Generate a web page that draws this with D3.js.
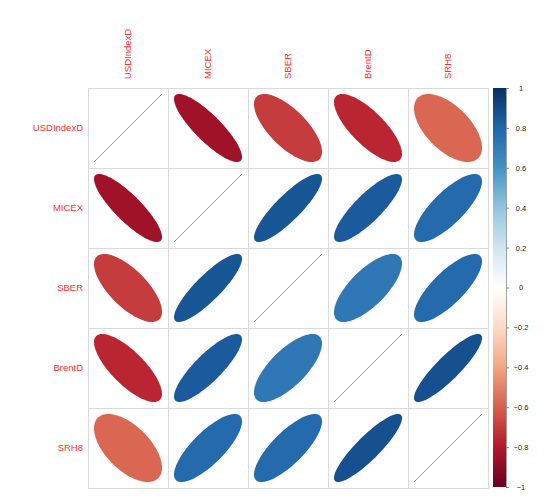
<!DOCTYPE html>
<html>
<head>
<meta charset="utf-8">
<script src="https://cdn.jsdelivr.net/npm/d3@7/dist/d3.min.js"></script>
<style>
  html, body { margin: 0; padding: 0; background: #fff; }
  svg { display: block; font-family: "Liberation Sans", Arial, sans-serif; }
</style>
</head>
<body>
<svg id="chart" width="550" height="501"></svg>
<script>
const variables = ["USDIndexD", "MICEX", "SBER", "BrentD", "SRH8"];
const corrUSDIndexD = [1.00, -0.85, -0.70, -0.76, -0.58];
const corrMICEX     = [-0.85, 1.00, 0.86, 0.84, 0.78];
const corrSBER      = [-0.70, 0.86, 1.00, 0.72, 0.78];
const corrBrentD    = [-0.76, 0.84, 0.72, 1.00, 0.88];
const corrSRH8      = [-0.58, 0.78, 0.78, 0.88, 1.00];
const corrRows = [corrUSDIndexD, corrMICEX, corrSBER, corrBrentD, corrSRH8];
const legendTicks = [-1, -0.8, -0.6, -0.4, -0.2, 0, 0.2, 0.4, 0.6, 0.8, 1];
const paletteColors = ["#67001F", "#B2182B", "#D6604D", "#F4A582", "#FDDBC7", "#FFFFFF",
                       "#D1E5F0", "#92C5DE", "#4393C3", "#2166AC", "#053061"];

const svg = d3.select("#chart");
const plotLeft = 88, plotTop = 88, plotSize = 400;

const x = d3.scaleBand().domain(variables).range([plotLeft, plotLeft + plotSize]).padding(0);
const y = d3.scaleBand().domain(variables).range([plotTop, plotTop + plotSize]).padding(0);
const color = d3.scaleLinear().domain(legendTicks).range(paletteColors).interpolate(d3.interpolateRgb);

const cells = [];
variables.forEach((rv, i) => {
  variables.forEach((cv, j) => {
    cells.push({ row: rv, col: cv, r: corrRows[i][j] });
  });
});

// grid
const g = svg.append("g");
g.selectAll("rect.cell").data(cells).join("rect")
  .attr("class", "cell")
  .attr("x", d => x(d.col) + 0.5)
  .attr("y", d => y(d.row) + 0.5)
  .attr("width", x.bandwidth())
  .attr("height", y.bandwidth())
  .attr("fill", "none")
  .attr("stroke", "#dadada")
  .attr("stroke-width", 1);

// ellipses (corrplot style)
function ellipsePath(d) {
  const cx = x(d.col) + x.bandwidth() / 2;
  const cyy = y(d.row) + y.bandwidth() / 2;
  const s = 0.85 * 0.5 * x.bandwidth();
  const a = Math.acos(Math.max(-1, Math.min(1, d.r))) / 2;
  const n = 99;
  const pts = d3.range(n).map(k => {
    const t = 2 * Math.PI * k / (n - 1);
    return [cx + s * Math.cos(t + a), cyy - s * Math.cos(t - a)];
  });
  return d3.line()(pts) + "Z";
}

g.selectAll("path.ell").data(cells).join("path")
  .attr("class", "ell")
  .attr("d", ellipsePath)
  .attr("fill", d => d.r >= 0.999 ? "none" : color(d.r))
  .attr("stroke", d => d.r >= 0.999 ? "#6f86a6" : "none")
  .attr("stroke-width", d => d.r >= 0.999 ? 0.6 : 0);

// row labels
svg.append("g").selectAll("text").data(variables).join("text")
  .attr("x", plotLeft - 5)
  .attr("y", d => y(d) + y.bandwidth() / 2)
  .attr("dy", "0.35em")
  .attr("text-anchor", "end")
  .attr("font-size", "9.5px")
  .attr("fill", "#ff3030")
  .text(d => d);

// column labels (rotated)
svg.append("g").selectAll("text").data(variables).join("text")
  .attr("transform", d => `translate(${x(d) + x.bandwidth() / 2},${plotTop - 9}) rotate(-90)`)
  .attr("dy", "0.35em")
  .attr("text-anchor", "start")
  .attr("font-size", "9.5px")
  .attr("fill", "#ff3030")
  .text(d => d);

// color legend
const cbX = 493, cbW = 13;
const cbScale = d3.scaleLinear().domain([-1, 1]).range([plotTop + plotSize - 1, plotTop]);
const defs = svg.append("defs");
const grad = defs.append("linearGradient").attr("id", "cbar")
  .attr("x1", 0).attr("y1", 1).attr("x2", 0).attr("y2", 0);
grad.selectAll("stop").data(legendTicks).join("stop")
  .attr("offset", d => (d + 1) / 2)
  .attr("stop-color", d => color(d));
svg.append("rect")
  .attr("x", cbX).attr("y", cbScale(1))
  .attr("width", cbW).attr("height", cbScale(-1) - cbScale(1))
  .attr("fill", "url(#cbar)");

const axis = d3.axisRight(cbScale).tickValues(legendTicks).tickSize(3).tickFormat(d => d3.format("")(d));
const ag = svg.append("g").attr("transform", `translate(${cbX + cbW},0)`).call(axis);
ag.select(".domain").attr("stroke", "#888").attr("stroke-width", 0.8);
ag.selectAll(".tick line").attr("stroke", "#888");
ag.selectAll(".tick text")
  .attr("x", 15)
  .attr("text-anchor", "middle")
  .attr("font-size", "7.5px")
  .attr("font-family", "Liberation Sans, Arial, sans-serif")
  .attr("fill", "#222");
</script>
</body>
</html>
